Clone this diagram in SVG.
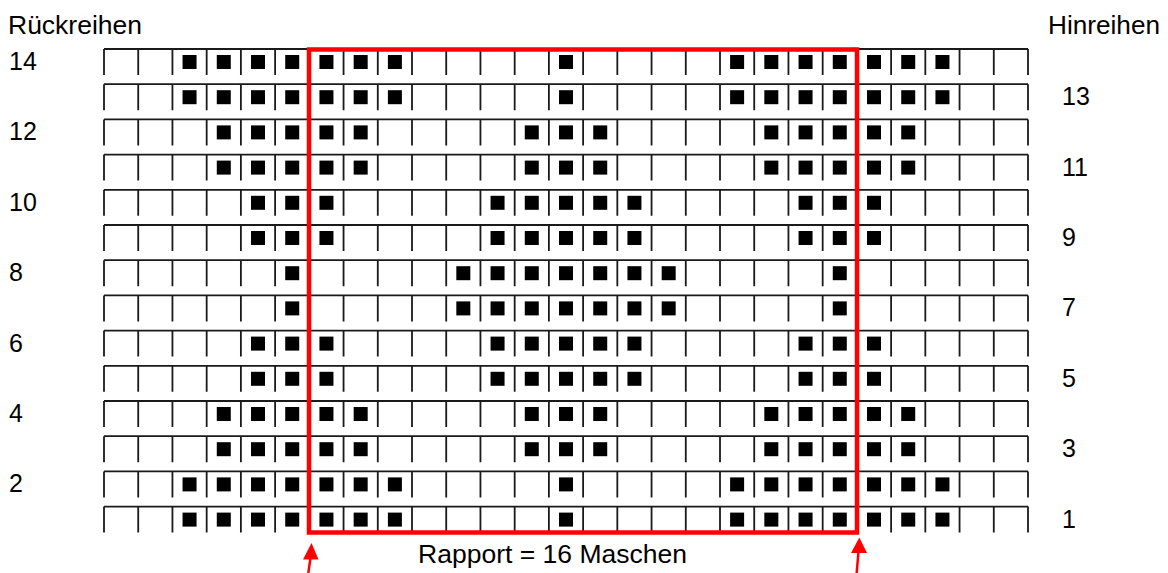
<svg xmlns="http://www.w3.org/2000/svg" xmlns:xlink="http://www.w3.org/1999/xlink" width="1168" height="573" viewBox="0 0 1168 573">
<style>
.grid{fill:none;stroke:#1a1a1a;stroke-width:1.8}
.sq{fill:#000}
.lbl{font-family:"Liberation Sans",Arial,sans-serif;font-size:25px;fill:#000}
.rap{fill:none;stroke:#ff0000;stroke-width:4.5}
.arr{stroke:#ff0000;stroke-width:2.5;fill:none}
.head{fill:#ff0000}
</style>
<defs>
<path id="grid" class="grid" d="M104,0H1028M104,0v26M138.22,0v26M172.44,0v26M206.67,0v26M240.89,0v26M275.11,0v26M309.33,0v26M343.56,0v26M377.78,0v26M412,0v26M446.22,0v26M480.44,0v26M514.67,0v26M548.89,0v26M583.11,0v26M617.33,0v26M651.56,0v26M685.78,0v26M720,0v26M754.22,0v26M788.44,0v26M822.67,0v26M856.89,0v26M891.11,0v26M925.33,0v26M959.56,0v26M993.78,0v26M1028,0v26"/>
<g id="patA" class="sq">
<rect x="182.55" y="6" width="14" height="14"/><rect x="216.78" y="6" width="14" height="14"/><rect x="251" y="6" width="14" height="14"/><rect x="285.22" y="6" width="14" height="14"/><rect x="319.44" y="6" width="14" height="14"/><rect x="353.67" y="6" width="14" height="14"/><rect x="387.89" y="6" width="14" height="14"/><rect x="559" y="6" width="14" height="14"/><rect x="730.11" y="6" width="14" height="14"/><rect x="764.33" y="6" width="14" height="14"/><rect x="798.56" y="6" width="14" height="14"/><rect x="832.78" y="6" width="14" height="14"/><rect x="867" y="6" width="14" height="14"/><rect x="901.22" y="6" width="14" height="14"/><rect x="935.44" y="6" width="14" height="14"/>
</g>
<g id="patB" class="sq">
<rect x="216.78" y="6" width="14" height="14"/><rect x="251" y="6" width="14" height="14"/><rect x="285.22" y="6" width="14" height="14"/><rect x="319.44" y="6" width="14" height="14"/><rect x="353.67" y="6" width="14" height="14"/><rect x="524.78" y="6" width="14" height="14"/><rect x="559" y="6" width="14" height="14"/><rect x="593.22" y="6" width="14" height="14"/><rect x="764.33" y="6" width="14" height="14"/><rect x="798.56" y="6" width="14" height="14"/><rect x="832.78" y="6" width="14" height="14"/><rect x="867" y="6" width="14" height="14"/><rect x="901.22" y="6" width="14" height="14"/>
</g>
<g id="patC" class="sq">
<rect x="251" y="6" width="14" height="14"/><rect x="285.22" y="6" width="14" height="14"/><rect x="319.44" y="6" width="14" height="14"/><rect x="490.56" y="6" width="14" height="14"/><rect x="524.78" y="6" width="14" height="14"/><rect x="559" y="6" width="14" height="14"/><rect x="593.22" y="6" width="14" height="14"/><rect x="627.44" y="6" width="14" height="14"/><rect x="798.56" y="6" width="14" height="14"/><rect x="832.78" y="6" width="14" height="14"/><rect x="867" y="6" width="14" height="14"/>
</g>
<g id="patD" class="sq">
<rect x="285.22" y="6" width="14" height="14"/><rect x="456.33" y="6" width="14" height="14"/><rect x="490.56" y="6" width="14" height="14"/><rect x="524.78" y="6" width="14" height="14"/><rect x="559" y="6" width="14" height="14"/><rect x="593.22" y="6" width="14" height="14"/><rect x="627.44" y="6" width="14" height="14"/><rect x="661.67" y="6" width="14" height="14"/><rect x="832.78" y="6" width="14" height="14"/>
</g>
</defs>

<g id="row14" transform="translate(0,49)"><use xlink:href="#grid"/><use xlink:href="#patA"/></g>
<g id="row13" transform="translate(0,84.2)"><use xlink:href="#grid"/><use xlink:href="#patA"/></g>
<g id="row12" transform="translate(0,119.4)"><use xlink:href="#grid"/><use xlink:href="#patB"/></g>
<g id="row11" transform="translate(0,154.6)"><use xlink:href="#grid"/><use xlink:href="#patB"/></g>
<g id="row10" transform="translate(0,189.8)"><use xlink:href="#grid"/><use xlink:href="#patC"/></g>
<g id="row9" transform="translate(0,225)"><use xlink:href="#grid"/><use xlink:href="#patC"/></g>
<g id="row8" transform="translate(0,260.2)"><use xlink:href="#grid"/><use xlink:href="#patD"/></g>
<g id="row7" transform="translate(0,295.4)"><use xlink:href="#grid"/><use xlink:href="#patD"/></g>
<g id="row6" transform="translate(0,330.6)"><use xlink:href="#grid"/><use xlink:href="#patC"/></g>
<g id="row5" transform="translate(0,365.8)"><use xlink:href="#grid"/><use xlink:href="#patC"/></g>
<g id="row4" transform="translate(0,401)"><use xlink:href="#grid"/><use xlink:href="#patB"/></g>
<g id="row3" transform="translate(0,436.2)"><use xlink:href="#grid"/><use xlink:href="#patB"/></g>
<g id="row2" transform="translate(0,471.4)"><use xlink:href="#grid"/><use xlink:href="#patA"/></g>
<g id="row1" transform="translate(0,506.6)"><use xlink:href="#grid"/><use xlink:href="#patA"/></g>

<g id="rapport">
<rect class="rap" x="309" y="49.5" width="548" height="483"/>
<text class="lbl" x="418" y="563" textLength="269" lengthAdjust="spacingAndGlyphs">Rapport = 16 Maschen</text>
</g>

<g id="labels-left">
<text class="lbl" x="8" y="34" textLength="134" lengthAdjust="spacingAndGlyphs">Rückreihen</text>
<text class="lbl" x="9" y="70">14</text>
<text class="lbl" x="9" y="140.4">12</text>
<text class="lbl" x="9" y="210.8">10</text>
<text class="lbl" x="9" y="281.2">8</text>
<text class="lbl" x="9" y="351.6">6</text>
<text class="lbl" x="9" y="422">4</text>
<text class="lbl" x="9" y="492.4">2</text>
</g>
<g id="labels-right">
<text class="lbl" x="1048" y="34" textLength="112" lengthAdjust="spacingAndGlyphs">Hinreihen</text>
<text class="lbl" x="1062" y="105.2">13</text>
<text class="lbl" x="1062" y="175.6">11</text>
<text class="lbl" x="1062" y="246">9</text>
<text class="lbl" x="1062" y="316.4">7</text>
<text class="lbl" x="1062" y="386.8">5</text>
<text class="lbl" x="1062" y="457.2">3</text>
<text class="lbl" x="1062" y="527.6">1</text>
</g>

<g id="connectors">
<line class="arr" x1="308.3" y1="573" x2="310.8" y2="556"/>
<polygon class="head" points="311.5,543 303,559.5 318.5,559.5"/>
<line class="arr" x1="856.7" y1="573" x2="858.6" y2="550"/>
<polygon class="head" points="859.3,537.5 851,553 867,553"/>
</g>
</svg>
